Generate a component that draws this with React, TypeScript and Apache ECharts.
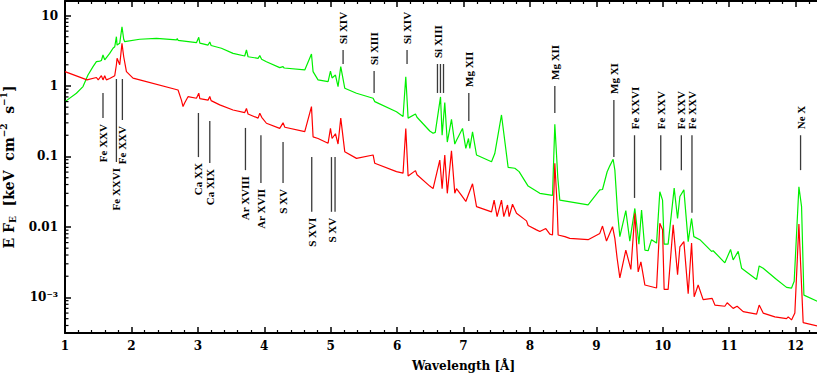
import React, { useEffect, useRef } from 'react';
import * as echarts from 'echarts';

// [wavelength (Å), E F_E (keV cm^-2 s^-1)]
const greenSpectrum: [number, number][] = [
  [1.000, 0.60], [1.172, 0.79], [1.271, 0.98], [1.346, 1.43], [1.422, 1.88], [1.473, 2.21],
  [1.523, 2.25], [1.548, 2.3], [1.572, 2.75], [1.598, 2.35], [1.673, 2.9], [1.723, 3.43],
  [1.749, 3.6], [1.774, 5.0], [1.784, 3.8], [1.824, 4.03], [1.858, 6.93], [1.884, 4.6],
  [1.899, 4.25], [2.125, 4.6], [2.377, 4.75], [2.678, 4.5], [2.690, 4.7], [2.702, 4.45],
  [2.979, 4.12], [3.014, 4.9], [3.030, 4.05], [3.154, 3.81], [3.180, 4.2], [3.200, 3.75],
  [3.355, 3.43], [3.530, 2.9], [3.706, 2.66], [3.732, 3.24], [3.756, 2.6], [3.907, 2.47],
  [3.933, 2.7], [3.960, 2.4], [4.033, 2.21], [4.233, 1.82], [4.283, 1.88], [4.300, 1.8],
  [4.610, 1.69], [4.711, 2.84], [4.735, 1.6], [4.810, 1.22], [4.961, 1.15], [4.997, 1.63],
  [5.021, 1.3], [5.072, 1.43], [5.111, 0.98], [5.152, 1.88], [5.212, 0.93], [5.389, 0.79],
  [5.639, 0.67], [5.664, 0.6], [5.991, 0.43], [6.090, 0.37], [6.131, 1.35], [6.166, 0.35],
  [6.277, 0.40], [6.300, 0.36], [6.492, 0.23], [6.542, 0.213], [6.575, 0.22], [6.654, 0.70],
  [6.678, 0.2], [6.718, 0.58], [6.756, 0.16], [6.819, 0.337], [6.869, 0.15], [6.895, 0.17],
  [6.985, 0.25], [7.035, 0.13], [7.075, 0.18], [7.095, 0.13], [7.136, 0.224], [7.196, 0.105],
  [7.422, 0.084], [7.471, 0.11], [7.572, 0.388], [7.672, 0.07], [7.773, 0.068], [7.837, 0.061],
  [7.973, 0.038], [8.149, 0.03], [8.340, 0.028], [8.375, 0.286], [8.420, 0.05], [8.450, 0.024],
  [8.876, 0.0206], [9.052, 0.0335], [9.093, 0.034], [9.163, 0.0607], [9.203, 0.0736],
  [9.253, 0.0913], [9.279, 0.064], [9.319, 0.0164], [9.354, 0.0073], [9.444, 0.0171],
  [9.504, 0.0063], [9.580, 0.0183], [9.641, 0.0057], [9.681, 0.0174], [9.731, 0.0047],
  [9.780, 0.0046], [9.831, 0.0066], [9.907, 0.0059], [9.956, 0.0316], [9.997, 0.024],
  [10.021, 0.0057], [10.081, 0.0057], [10.172, 0.0355], [10.223, 0.0132], [10.258, 0.027],
  [10.318, 0.0336], [10.383, 0.0062], [10.434, 0.0132], [10.468, 0.0073], [10.559, 0.0066],
  [10.735, 0.0045], [10.759, 0.0046], [10.935, 0.0031], [11.021, 0.0048], [11.060, 0.0034],
  [11.136, 0.0045], [11.187, 0.0026], [11.413, 0.0018], [11.452, 0.0028], [11.512, 0.0026],
  [11.714, 0.0018], [11.864, 0.00139], [11.939, 0.00136], [11.979, 0.0017], [12.050, 0.0372],
  [12.090, 0.0194], [12.125, 0.00108], [12.400, 0.00082],
];

const redSpectrum: [number, number][] = [
  [1.000, 1.6], [1.331, 1.22], [1.473, 1.32], [1.500, 1.22], [1.548, 1.4], [1.572, 1.22],
  [1.598, 1.4], [1.623, 1.22], [1.673, 1.28], [1.749, 1.4], [1.774, 2.0], [1.784, 2.47],
  [1.824, 2.0], [1.858, 4.03], [1.884, 2.6], [1.925, 1.6], [2.024, 1.29], [2.125, 1.22],
  [2.702, 0.877], [2.753, 0.63], [2.777, 0.51], [2.803, 0.58], [2.852, 0.705], [2.979, 0.67],
  [3.014, 0.79], [3.030, 0.66], [3.154, 0.63], [3.180, 0.71], [3.200, 0.62], [3.330, 0.54],
  [3.530, 0.456], [3.706, 0.42], [3.732, 0.48], [3.756, 0.40], [3.907, 0.35], [3.933, 0.41],
  [3.962, 0.36], [4.033, 0.296], [4.233, 0.25], [4.283, 0.30], [4.310, 0.26], [4.610, 0.225],
  [4.711, 0.51], [4.735, 0.19], [4.810, 0.18], [4.961, 0.154], [4.997, 0.25], [5.021, 0.18],
  [5.072, 0.21], [5.111, 0.15], [5.152, 0.35], [5.212, 0.117], [5.389, 0.094], [5.639, 0.105],
  [5.664, 0.08], [5.991, 0.061], [6.090, 0.058], [6.131, 0.25], [6.166, 0.053], [6.277, 0.063],
  [6.300, 0.055], [6.492, 0.038], [6.542, 0.035], [6.643, 0.089], [6.678, 0.035], [6.718, 0.105],
  [6.756, 0.03], [6.819, 0.12], [6.869, 0.03], [6.894, 0.035], [6.970, 0.028], [7.035, 0.023],
  [7.136, 0.041], [7.196, 0.0194], [7.422, 0.0164], [7.461, 0.024], [7.506, 0.014],
  [7.572, 0.024], [7.607, 0.014], [7.663, 0.0205], [7.687, 0.014], [7.738, 0.021],
  [7.798, 0.0156], [7.949, 0.0122], [7.973, 0.0105], [8.099, 0.0091], [8.149, 0.0086],
  [8.239, 0.0095], [8.300, 0.0079], [8.340, 0.0077], [8.375, 0.080], [8.410, 0.02],
  [8.425, 0.0077], [8.526, 0.0073], [8.600, 0.0069], [8.876, 0.0066], [9.052, 0.0081],
  [9.093, 0.0103], [9.153, 0.0063], [9.244, 0.0101], [9.279, 0.0069], [9.313, 0.0036],
  [9.354, 0.0019], [9.444, 0.0047], [9.520, 0.0025], [9.580, 0.0156], [9.630, 0.0023],
  [9.671, 0.0032], [9.731, 0.0015], [9.907, 0.00136], [9.956, 0.0113], [9.997, 0.0091],
  [10.021, 0.0013], [10.081, 0.0013], [10.157, 0.0107], [10.223, 0.0021], [10.258, 0.0052],
  [10.318, 0.0062], [10.383, 0.00113], [10.434, 0.0059], [10.473, 0.00102], [10.533, 0.0015],
  [10.608, 0.00093], [10.744, 0.00097], [10.785, 0.00078], [10.935, 0.00075], [10.970, 0.00084],
  [11.060, 0.00070], [11.120, 0.00075], [11.211, 0.00063], [11.413, 0.00058], [11.452, 0.00078],
  [11.512, 0.00060], [11.688, 0.00053], [11.864, 0.0005], [11.889, 0.00053], [11.939, 0.00048],
  [11.989, 0.0006], [12.050, 0.011], [12.114, 0.00044], [12.400, 0.00038],
];

// Line identifications
const lineIdNames = [
  'Fe XXV', 'Fe XXVI', 'Fe XXV', 'Ca XX', 'Ca XIX', 'Ar XVIII', 'Ar XVII', 'S XV', 'S XVI', 'S XV',
  'Si XIV', 'Si XIII', 'Si XIV', 'Si XIII', 'Mg XII', 'Mg XII', 'Mg XI',
  'Fe XXVI', 'Fe XXV', 'Fe XXV', 'Fe XXV', 'Ne X',
];
const lineIdWaves = [
  [1.572], [1.774], [1.864], [3.009], [3.18], [3.717], [3.95], [4.283], [4.715], [5.012, 5.066],
  [5.187], [5.654], [6.15], [6.608, 6.653, 6.699], [7.08], [8.375], [9.264],
  [9.575], [9.97], [10.28], [10.44], [12.075],
];
const lineIdTop = [
  0.796, 1.257, 1.257, 0.414, 0.319, 0.254, 0.2, 0.16, 0.098, 0.098,
  3.24, 1.63, 3.24, 2.05, 0.796, 1.0, 0.633,
  0.2, 0.2, 0.2, 0.2, 0.2,
];
const lineIdBottom = [
  0.351, 0.0835, 0.329, 0.098, 0.081, 0.064, 0.042, 0.042, 0.0164, 0.0164,
  2.05, 0.796, 2.05, 0.796, 0.319, 0.414, 0.098,
  0.0258, 0.064, 0.064, 0.0159, 0.064,
];
const lineIdLabelAbove = [
  false, false, false, false, false, false, false, false, false, false,
  true, true, true, true, true, true, true,
  true, true, true, true, true,
];

const yTickExponents = [-3, -2, -1, 0, 1];
const yTickTexts = ['10⁻³', '0.01', '0.1', '1', '10'];

const X_MIN = 1;
const X_MAX = 13;
const Y_MIN = 3.13e-4;
const Y_MAX = 16.06;

export default function App() {
  const ref = useRef<HTMLDivElement>(null);

  useEffect(() => {
    if (!ref.current) return;
    const chart = echarts.init(ref.current, null, { renderer: 'svg' });
    const font = 'DejaVu Serif';

    const yMinor: number[] = [];
    for (let e = -4; e <= 1; e++) {
      for (let m = 2; m <= 9; m++) {
        const v = m * Math.pow(10, e);
        if (v > Y_MIN && v < Y_MAX) yMinor.push(v);
      }
    }

    const axisLine = { show: true, onZero: false, lineStyle: { color: '#000', width: 2 } };
    const xTick = { show: true, inside: true, length: 6, lineStyle: { color: '#000', width: 1.5 } };
    const xMinor = { show: true, splitNumber: 5, length: 3, lineStyle: { color: '#000', width: 1.2 } };

    const option: any = {
      animation: false,
      grid: { left: 65, right: -45, top: 1, bottom: 46, containLabel: false, outerBoundsMode: 'none' },
      xAxis: [
        {
          type: 'value', min: X_MIN, max: X_MAX, interval: 1, position: 'bottom',
          axisLine, axisTick: xTick, minorTick: xMinor,
          splitLine: { show: false }, minorSplitLine: { show: false },
          axisLabel: {
            color: '#000', fontFamily: font, fontWeight: 'bold', fontSize: 12, margin: 7,
            formatter: (v: number) => (Math.abs(v - Math.round(v)) < 1e-6 && v < 12.5 ? String(Math.round(v)) : ''),
          },
          name: 'Wavelength [Å]', nameLocation: 'middle', nameGap: 27,
          nameTextStyle: { color: '#000', fontFamily: font, fontWeight: 'bold', fontSize: 12 },
        },
        {
          type: 'value', min: X_MIN, max: X_MAX, interval: 1, position: 'top',
          axisLine, axisTick: xTick, minorTick: xMinor,
          splitLine: { show: false }, axisLabel: { show: false },
        },
      ],
      yAxis: [
        {
          type: 'log', logBase: 10, min: Y_MIN, max: Y_MAX, position: 'left',
          axisLine, axisTick: { show: true, inside: true, length: 6, lineStyle: { color: '#000', width: 1.5 } },
          splitLine: { show: false },
          axisLabel: {
            color: '#000', fontFamily: font, fontWeight: 'bold', fontSize: 12, margin: 7,
            formatter: (v: number) => {
              const l = Math.log10(v);
              const r = Math.round(l);
              if (Math.abs(l - r) > 0.01) return '';
              const idx = yTickExponents.indexOf(r);
              return idx >= 0 ? yTickTexts[idx] : '';
            },
          },
          name: '{a|E F}{s|E}{a|  [keV  cm}{p|−2}{a|  s}{p|−1}{a|]}',
          nameLocation: 'middle', nameGap: 38, nameRotate: 90,
          nameTextStyle: {
            color: '#000', fontFamily: font, fontWeight: 'bold', fontSize: 14,
            rich: {
              a: { fontFamily: font, fontWeight: 'bold', fontSize: 14, lineHeight: 18, color: '#000', verticalAlign: 'middle' },
              s: { fontFamily: font, fontWeight: 'bold', fontSize: 9, lineHeight: 9, color: '#000', verticalAlign: 'bottom' },
              p: { fontFamily: font, fontWeight: 'bold', fontSize: 9, lineHeight: 9, color: '#000', verticalAlign: 'top' },
            },
          },
        },
        {
          type: 'log', logBase: 10, min: Y_MIN, max: Y_MAX, position: 'right',
          axisLine, axisTick: { show: false }, axisLabel: { show: false }, splitLine: { show: false },
        },
      ],
      series: [
        {
          type: 'line', name: 'green', data: greenSpectrum, showSymbol: false, symbol: 'none',
          lineStyle: { color: '#00f000', width: 1.2 }, z: 2,
        },
        {
          type: 'line', name: 'red', data: redSpectrum, showSymbol: false, symbol: 'none',
          lineStyle: { color: '#ff0000', width: 1.2 }, z: 3,
        },
        {
          type: 'custom', coordinateSystem: 'cartesian2d', silent: true, clip: false, z: 5,
          data: yMinor.map((v) => [X_MIN, v]),
          renderItem: (_p: any, api: any) => {
            const pt = api.coord([api.value(0), api.value(1)]);
            return {
              type: 'line',
              shape: { x1: pt[0], y1: pt[1], x2: pt[0] + 3.5, y2: pt[1] },
              style: { stroke: '#000', lineWidth: 1.2 },
            };
          },
        },
        {
          type: 'custom', coordinateSystem: 'cartesian2d', silent: true, clip: false, z: 10,
          data: lineIdNames.map((_n, i) => [lineIdWaves[i][0], lineIdTop[i]]),
          renderItem: (params: any, api: any) => {
            const i = params.dataIndex;
            const children: any[] = [];
            lineIdWaves[i].forEach((w) => {
              const a = api.coord([w, lineIdTop[i]]);
              const b = api.coord([w, lineIdBottom[i]]);
              children.push({
                type: 'line',
                shape: { x1: a[0], y1: a[1], x2: b[0], y2: b[1] },
                style: { stroke: '#3a3a3a', lineWidth: 1.3 },
              });
            });
            const top = api.coord([lineIdWaves[i][0], lineIdTop[i]]);
            const bot = api.coord([lineIdWaves[i][0], lineIdBottom[i]]);
            const above = lineIdLabelAbove[i];
            children.push({
              type: 'text',
              x: top[0] + (lineIdWaves[i].length > 1 ? 0.5 : 0),
              y: above ? top[1] - 6 : bot[1] + 6,
              rotation: Math.PI / 2,
              style: {
                text: lineIdNames[i],
                fill: '#000',
                font: 'bold 11px "Liberation Serif"',
                align: above ? 'left' : 'right',
                verticalAlign: 'middle',
              },
            });
            return { type: 'group', children };
          },
        },
      ],
    };

    chart.setOption(option);
    return () => chart.dispose();
  }, []);

  return (
    <div
      ref={ref}
      style={{ position: 'absolute', left: 0, top: 0, width: 817, height: 379, background: '#fff' }}
    />
  );
}
